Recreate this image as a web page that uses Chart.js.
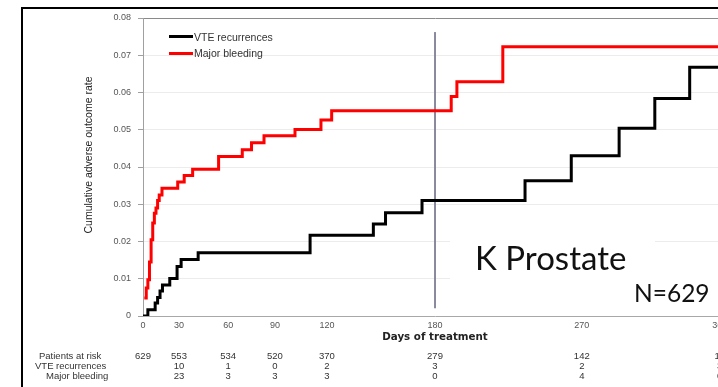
<!DOCTYPE html>
<html><head><meta charset="utf-8">
<script src="https://cdn.jsdelivr.net/npm/chart.js@4.4.1/dist/chart.umd.min.js"></script>
<style>
html,body{margin:0;padding:0;overflow:hidden;background:#fff;width:718px;height:387px;}
#wrap{position:relative;width:760px;height:387px;overflow:hidden;}
canvas{position:absolute;left:0;top:0;}
.frame{position:absolute;left:21px;top:7px;width:760px;height:420px;border-top:2px solid #000;border-left:2px solid #000;pointer-events:none;}
.t{position:absolute;white-space:nowrap;font-family:"Liberation Sans",Arial,sans-serif;line-height:1;color:#333;}
.box{position:absolute;background:#fff;}
.leg{position:absolute;height:3px;width:24px;}
</style></head>
<body><div id="wrap">
<canvas id="c" width="760" height="387"></canvas>
<div class="frame"></div>
<div class="t" id="ytitle" style="font-size:10.5px;left:88px;top:155px;transform:translate(-50%,-50%) rotate(-90deg);color:#222;">Cumulative adverse outcome rate</div>
<div class="leg" style="left:169px;top:35px;background:#000;"></div>
<div class="t" style="left:194px;top:31.5px;font-size:10.5px;">VTE recurrences</div>
<div class="leg" style="left:169px;top:51.5px;background:#ff0000;"></div>
<div class="t" style="left:194px;top:48px;font-size:10.5px;">Major bleeding</div>
<div class="box" style="left:450px;top:210px;width:205px;height:64px;"></div>
<div class="box" style="left:450px;top:272px;width:300px;height:40px;"></div>
<div class="t" style="left:475px;top:241px;font-size:33px;font-family:Lato,'Noto Sans',sans-serif;color:#111;">K Prostate</div>
<div class="t" style="left:634px;top:281px;font-size:24.5px;font-family:Lato,'Noto Sans',sans-serif;color:#111;">N=629</div>
<div class="t" style="left:39px;top:351px;font-size:9.5px;">Patients at risk</div>
<div class="t" style="left:35px;top:361px;font-size:9.5px;">VTE recurrences</div>
<div class="t" style="left:46px;top:371px;font-size:9.5px;">Major bleeding</div>
</div>
<script>
// ---- data ----
const xTickLabels = ['0', '30', '60', '90', '120', '180', '270', '360'];
// tick positions (days on the linear axis) as they sit in the reference picture
const xTickPositions = [0, 22.2, 52.5, 81.3, 113.4, 180, 270.5, 355.5];

const vteDays = [0, 3, 7.5, 9, 10.5, 12, 16.5, 21, 23.5, 34, 103, 142, 149.5, 172, 235.5, 264, 293.5, 315.5, 337, 360];
const vteRate = [0, 0.0017, 0.0035, 0.005, 0.0067, 0.0083, 0.0101, 0.0133, 0.0152, 0.017, 0.0217, 0.0247, 0.0277, 0.031, 0.0363, 0.043, 0.0504, 0.0584, 0.0668, 0.0668];

const bleedDays = [0.8, 2, 3, 4, 5, 6, 7, 8, 9, 10, 11.7, 21.4, 25.4, 30.6, 46.6, 61.2, 66.9, 74.6, 93.7, 109.7, 116.3, 190, 193.5, 221.8, 360];
const bleedRate = [0.0048, 0.0075, 0.0097, 0.0145, 0.0205, 0.025, 0.0276, 0.029, 0.031, 0.0325, 0.0343, 0.036, 0.0377, 0.0394, 0.0428, 0.0446, 0.0465, 0.0484, 0.0501, 0.0526, 0.0551, 0.0589, 0.0629, 0.0723, 0.0723];

const markerDay = 180;
const markerRange = [0.0762, 0.0021];

const patientsAtRisk = ['629', '553', '534', '520', '370', '279', '142', '16'];
const vteCounts = ['', '10', '1', '0', '2', '3', '2', '3'];
const bleedCounts = ['', '23', '3', '3', '3', '0', '4', '0'];

const tickFont = {family: "'Liberation Sans', Arial, sans-serif", size: 9};

const chart = new Chart(document.getElementById('c'), {
  type: 'line',
  data: {
    datasets: [
      {label: 'VTE recurrences', data: vteDays.map((x, i) => ({x, y: vteRate[i]})),
       borderColor: '#000', borderWidth: 3, stepped: true, pointRadius: 0, fill: false},
      {label: 'Major bleeding', data: bleedDays.map((x, i) => ({x, y: bleedRate[i]})),
       borderColor: '#ff0000', borderWidth: 3, stepped: true, pointRadius: 0, fill: false},
      {label: '180 days', data: markerRange.map(y => ({x: markerDay, y})),
       borderColor: '#7a7a90', borderWidth: 1, pointRadius: 0, fill: false}
    ]
  },
  options: {
    responsive: false, animation: false,
    layout: {padding: {left: 0, top: 18, right: 33, bottom: 43.3}},
    plugins: {legend: {display: false}, tooltip: {enabled: false}},
    scales: {
      x: {
        type: 'linear', min: 0, max: 360,
        afterBuildTicks: s => { s.ticks = xTickPositions.map(v => ({value: v})); },
        afterFit: s => { s.height = 27.7; },
        ticks: {autoSkip: false, maxRotation: 0, padding: 4, font: tickFont, color: '#555',
                callback: (v, i) => xTickLabels[i]},
        grid: {display: false, drawTicks: false, tickLength: 0},
        border: {display: true, color: '#a8a8a8', width: 1},
        title: {display: true, text: 'Days of treatment', padding: 0, color: '#222',
                font: {family: "'DejaVu Sans', Verdana, sans-serif", weight: 'bold', size: 10.3}}
      },
      y: {
        min: 0, max: 0.08,
        afterFit: s => { s.width = 143; },
        ticks: {stepSize: 0.01, padding: 7, font: tickFont, color: '#555'},
        grid: {color: c => (c.tick && c.tick.value > 0.0799) ? '#8a8a8a' : '#ececec',
               tickColor: '#a0a0a0', tickLength: 5},
        border: {color: '#a0a0a0', width: 1}
      }
    }
  }
});

// risk table, aligned on the x-axis ticks
const wrap = document.getElementById('wrap');
const rows = [[patientsAtRisk, 351], [vteCounts, 361], [bleedCounts, 371]];
rows.forEach(([vals, top]) => {
  vals.forEach((v, i) => {
    if (!v) return;
    const d = document.createElement('div');
    d.className = 't';
    d.style.fontSize = '9.5px';
    d.style.top = top + 'px';
    d.style.left = chart.scales.x.getPixelForValue(xTickPositions[i]) + 'px';
    d.style.transform = 'translateX(-50%)';
    d.textContent = v;
    wrap.appendChild(d);
  });
});
</script>
</body></html>
